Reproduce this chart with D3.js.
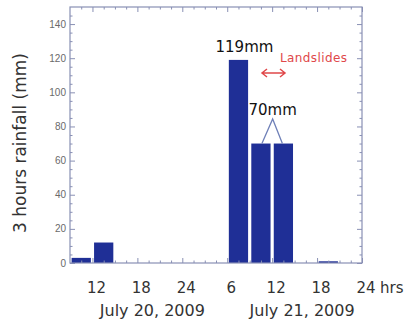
<!DOCTYPE html>
<html>
<head>
<meta charset="utf-8">
<script src="https://cdn.jsdelivr.net/npm/d3@7"></script>
<style>
  html, body { margin: 0; padding: 0; background: #fff; }
  svg { display: block; }
</style>
</head>
<body>
<svg id="chart" width="407" height="324"></svg>
<script>
// 3-hour accumulation periods, start hour counted from July 20, 2009 00:00
const periodStart = [9, 12, 30, 33, 36, 42];
const rainfall = [3, 12, 119, 70, 70, 1];   // mm per 3 hours

const xTickHours = [12, 18, 24, 30, 36, 42, 48];
const xTickLabels = ["12", "18", "24", "6", "12", "18", "24"];
const yTicks = [0, 20, 40, 60, 80, 100, 120, 140];
const dayLabels = ["July 20, 2009", "July 21, 2009"];
const dayCenters = [20, 40];   // hour positions of the day captions

const svg = d3.select("#chart");
const plotLeft = 70, plotRight = 362, plotTop = 7, plotBottom = 263;

const x = d3.scaleLinear().domain([9, 48]).range([plotLeft, plotRight]);
const y = d3.scaleLinear().domain([0, 150]).range([plotBottom, plotTop]);

const frameColor = "#8990b4";
const barColor = "#1f2f96";
const font = "'DejaVu Sans', sans-serif";

// bars
const inset = 1.6;
svg.append("g").selectAll("rect")
  .data(periodStart.map((s, i) => ({ s, v: rainfall[i] })))
  .join("rect")
  .attr("x", d => x(d.s) + inset)
  .attr("width", d => x(d.s + 3) - x(d.s) - 2 * inset)
  .attr("y", d => y(d.v))
  .attr("height", d => y(0) - y(d.v))
  .attr("fill", barColor);

// axes with inward ticks on all four sides
const majorX = d3.range(12, 48.01, 6);
const minorX = d3.range(10.5, 48, 1.5).filter(h => !majorX.includes(h));
const minorY = d3.range(5, 150, 5).filter(v => v % 20 !== 0);

function axisStyle(g) {
  g.select(".domain").remove();
  g.selectAll("line").attr("stroke", frameColor).attr("stroke-width", 1);
}

svg.append("g").attr("transform", `translate(0,${plotBottom})`)
  .call(d3.axisTop(x).tickValues(majorX).tickSize(5).tickFormat(""))
  .call(axisStyle);
svg.append("g").attr("transform", `translate(0,${plotBottom})`)
  .call(d3.axisTop(x).tickValues(minorX).tickSize(2.5).tickFormat(""))
  .call(axisStyle);
svg.append("g").attr("transform", `translate(0,${plotTop})`)
  .call(d3.axisBottom(x).tickValues(majorX).tickSize(5).tickFormat(""))
  .call(axisStyle);
svg.append("g").attr("transform", `translate(0,${plotTop})`)
  .call(d3.axisBottom(x).tickValues(minorX).tickSize(2.5).tickFormat(""))
  .call(axisStyle);

svg.append("g").attr("transform", `translate(${plotLeft},0)`)
  .call(d3.axisRight(y).tickValues(yTicks).tickSize(5).tickFormat(""))
  .call(axisStyle);
svg.append("g").attr("transform", `translate(${plotLeft},0)`)
  .call(d3.axisRight(y).tickValues(minorY).tickSize(2.5).tickFormat(""))
  .call(axisStyle);
svg.append("g").attr("transform", `translate(${plotRight},0)`)
  .call(d3.axisLeft(y).tickValues(yTicks).tickSize(5).tickFormat(""))
  .call(axisStyle);
svg.append("g").attr("transform", `translate(${plotRight},0)`)
  .call(d3.axisLeft(y).tickValues(minorY).tickSize(2.5).tickFormat(""))
  .call(axisStyle);

// frame
svg.append("rect")
  .attr("x", plotLeft).attr("y", plotTop)
  .attr("width", plotRight - plotLeft).attr("height", plotBottom - plotTop)
  .attr("fill", "none").attr("stroke", frameColor).attr("stroke-width", 1.2);

// y tick labels
svg.append("g").selectAll("text")
  .data(yTicks).join("text")
  .attr("x", plotLeft - 4)
  .attr("y", d => y(d) + 3.5)
  .attr("text-anchor", "end")
  .attr("font-family", "'Liberation Sans Narrow', 'Liberation Sans', sans-serif")
  .attr("font-size", 10)
  .attr("fill", "#6a6a6a")
  .text(d => d);

// x tick labels
svg.append("g").selectAll("text")
  .data(xTickHours).join("text")
  .attr("x", d => x(d) + 4)
  .attr("y", 293)
  .attr("text-anchor", "middle")
  .attr("font-family", font)
  .attr("font-size", 15)
  .attr("fill", "#333")
  .text((d, i) => xTickLabels[i]);
svg.append("text")
  .attr("x", x(48) + 18).attr("y", 293)
  .attr("font-family", font).attr("font-size", 15).attr("fill", "#333")
  .text("hrs");

// day captions
svg.append("g").selectAll("text")
  .data(dayLabels).join("text")
  .attr("x", (d, i) => x(dayCenters[i]))
  .attr("y", 316)
  .attr("text-anchor", "middle")
  .attr("font-family", font)
  .attr("font-size", 16)
  .attr("fill", "#333")
  .text(d => d);

// y axis title
svg.append("text")
  .attr("transform", `translate(26,${(plotTop + plotBottom) / 2 + 8}) rotate(-90)`)
  .attr("text-anchor", "middle")
  .attr("font-family", font)
  .attr("font-size", 17)
  .attr("fill", "#333")
  .text("3 hours rainfall (mm)");

// value annotations
const peak = 2, second = 3, third = 4;
svg.append("text")
  .attr("x", x(periodStart[peak] + 1.5) + 6)
  .attr("y", y(rainfall[peak]) - 8)
  .attr("text-anchor", "middle")
  .attr("font-family", font).attr("font-size", 15).attr("fill", "#111")
  .text(`${rainfall[peak]}mm`);

const apexX = x(periodStart[third]) + 0.5, apexY = 119;
svg.append("text")
  .attr("x", apexX).attr("y", 115)
  .attr("text-anchor", "middle")
  .attr("font-family", font).attr("font-size", 15).attr("fill", "#111")
  .text(`${rainfall[second]}mm`);
svg.append("path")
  .attr("d", `M${x(periodStart[second] + 1.5) + 1},${y(rainfall[second])} L${apexX},${apexY} L${x(periodStart[third] + 1.5) - 1},${y(rainfall[third])}`)
  .attr("fill", "none").attr("stroke", "#6f80b8").attr("stroke-width", 1.3);

// landslide marker
const ax0 = 262, ax1 = 285, ay = 73;
svg.append("path")
  .attr("d", `M${ax0},${ay} L${ax1},${ay} M${ax0 + 5},${ay - 4} L${ax0},${ay} L${ax0 + 5},${ay + 4} M${ax1 - 5},${ay - 4} L${ax1},${ay} L${ax1 - 5},${ay + 4}`)
  .attr("fill", "none").attr("stroke", "#e0484a").attr("stroke-width", 1.5);
svg.append("text")
  .attr("x", 280).attr("y", 62)
  .attr("font-family", font).attr("font-size", 12).attr("letter-spacing", 0.4)
  .attr("fill", "#e0484a")
  .text("Landslides");
</script>
</body>
</html>
